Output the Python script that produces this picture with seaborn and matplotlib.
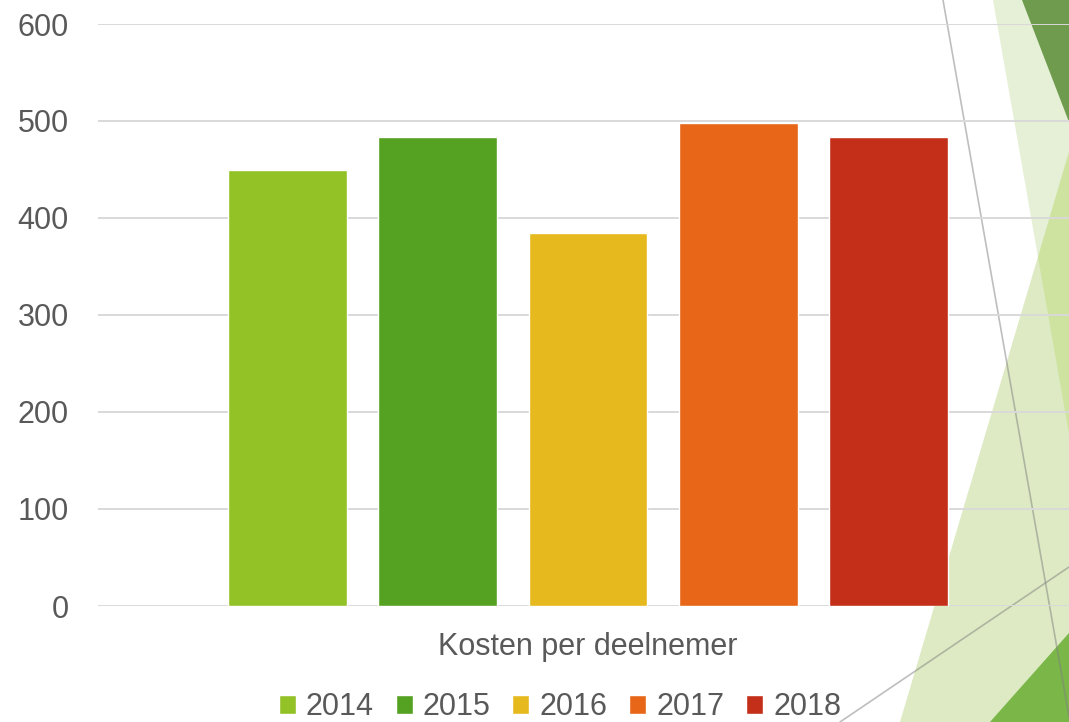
import pandas as pd
import matplotlib.pyplot as plt
from matplotlib.patches import Polygon
from matplotlib.lines import Line2D
import seaborn as sns

# data
categorie = "Kosten per deelnemer"
jaren = ["2014", "2015", "2016", "2017", "2018"]
kosten = [449, 484, 385, 498, 484]
kleuren = ["#93C227", "#55A122", "#E6B91E", "#E76618", "#C42F1A"]
y_ticks = [0, 100, 200, 300, 400, 500, 600]

df = pd.DataFrame({"categorie": [categorie] * len(jaren), "jaar": jaren, "kosten": kosten})

# style
sns.set_theme(style="white")
plt.rcParams["font.family"] = ["Liberation Sans", "DejaVu Sans"]
tekst = "#595959"

W, H = 1069, 722
fig = plt.figure(figsize=(W / 100, H / 100), dpi=100)


def px(x, y):
    return (x / W, 1 - y / H)


# slide background decoration (theme shapes)
vormen = [
    ([(993, 0), (1069, 0), (1069, 434)], "#E6F0D6"),
    ([(1069, 152), (900, 722), (1069, 722)], "#DDEAC3"),
    ([(1069, 152), (1038, 257), (1069, 434)], "#CFE3A1"),
    ([(1022, 0), (1069, 0), (1069, 122)], "#6E9B4E"),
    ([(990, 722), (1069, 633), (1069, 722)], "#7AB648"),
]
for pts, kleur in vormen:
    fig.patches.append(Polygon([px(*p) for p in pts], closed=True, facecolor=kleur,
                               edgecolor="none", transform=fig.transFigure, zorder=-3))
for (x0, y0), (x1, y1) in [((943, 0), (1070, 722)), ((840, 722), (1069, 567))]:
    a, b = px(x0, y0), px(x1, y1)
    fig.lines.append(Line2D([a[0], b[0]], [a[1], b[1]], color="#7F7F7F", alpha=0.5,
                            lw=1.2, transform=fig.transFigure, zorder=-2))

# chart
ax = fig.add_axes([98 / W, 1 - 606 / H, 980 / W, 582 / H])
ax.set_facecolor("none")
sns.barplot(data=df, x="categorie", y="kosten", hue="jaar", palette=kleuren,
            width=0.767, gap=0.21, saturation=1, ax=ax)
ax.set_xlim(-0.5, 0.5)
ax.set_ylim(0, 600)
ax.set_yticks(y_ticks)
ax.grid(axis="y", color="#D9D9D9", lw=1.4)
ax.set_axisbelow(True)
sns.despine(ax=ax, left=True, bottom=True)
ax.set_xlabel("")
ax.set_ylabel("")
ax.tick_params(axis="y", length=0, pad=21, labelsize=22, labelcolor=tekst)
ax.tick_params(axis="x", length=0, pad=18.5, labelsize=22, labelcolor=tekst)

handles, labels = ax.get_legend_handles_labels()
ax.get_legend().remove()
fig.legend(handles, labels, loc="center", bbox_to_anchor=px(560, 707), ncol=5,
           frameon=False, fontsize=22, labelcolor=tekst, handlelength=0.55,
           handleheight=0.6, handletextpad=0.33, columnspacing=0.72)

plt.savefig("out.png", dpi=100)
